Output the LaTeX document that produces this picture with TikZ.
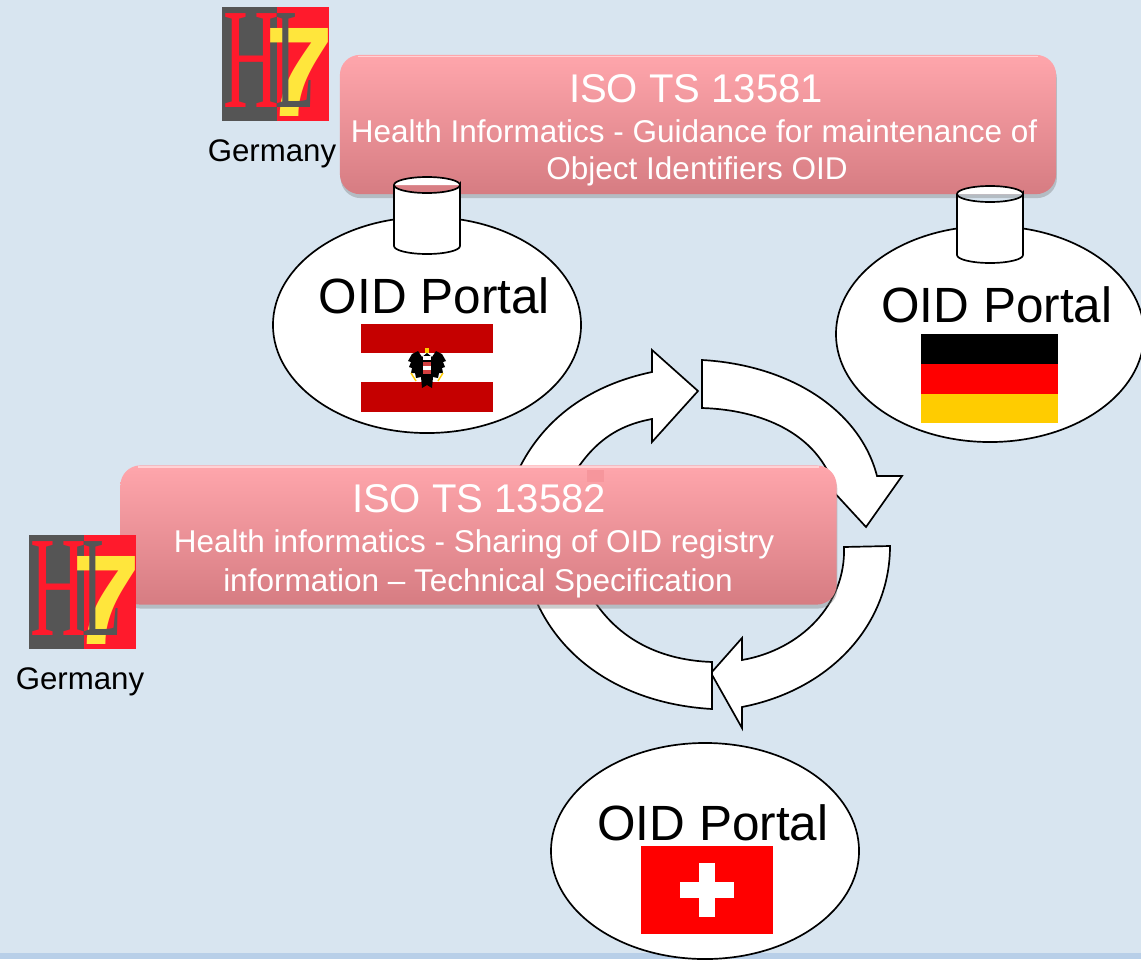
\documentclass[tikz,border=0pt]{standalone}
\usepackage{fontspec}
\setmainfont{Liberation Sans}
\newfontfamily\logofont{Liberation Serif}
\usetikzlibrary{positioning, shapes.geometric, shadows, calc}
\definecolor{slide}{RGB}{216,229,240}
\definecolor{band}{RGB}{184,207,232}
\definecolor{boxtop}{RGB}{255,166,172}
\definecolor{boxmid}{RGB}{246,150,156}
\definecolor{boxlow}{RGB}{214,124,130}
\definecolor{atred}{RGB}{197,0,0}
\definecolor{degold}{RGB}{255,204,0}
\definecolor{logogrey}{RGB}{85,85,85}
\definecolor{logored}{RGB}{255,26,44}
\definecolor{logoyellow}{RGB}{255,230,60}
\tikzstyle{portal} = [ellipse, minimum width=7.7cm, minimum height=5.4cm, inner sep=0, draw=black, fill=white, line width=1.2pt]
\tikzstyle{canline} = [draw=black, fill=white, line width=1.2pt]
\tikzstyle{isobox} = [rectangle, rounded corners=0.5cm, minimum width=17.9cm, minimum height=3.48cm, shading=axis, top color=boxtop, middle color=boxmid, bottom color=boxlow, drop shadow={shadow xshift=0.02cm, shadow yshift=-0.1cm, opacity=0.4}]
\tikzstyle{stripe} = [rectangle, minimum width=3.3cm, minimum height=0.735cm, inner sep=0]
\tikzstyle{bigtext} = [font=\fontsize{35.2}{40}\selectfont, inner sep=0]
\tikzstyle{isotitle} = [font=\fontsize{28.5}{32}\selectfont, text=white, inner sep=0]
\tikzstyle{isotext} = [font=\fontsize{22.4}{26}\selectfont, text=white, inner sep=0]
\tikzstyle{where} = [font=\fontsize{22.2}{26}\selectfont, inner sep=0]
\tikzstyle{cycle} = [draw=black, fill=white, line width=1.2pt, line join=miter]
\newcommand{\hlseven}[3]{%
  \fill[logored] (#2,#3) rectangle ++(107,114);
  \fill[logogrey] (#2,#3) rectangle ++(55,114);
  \node (#1seven) at (#2+76,#3+65) [inner sep=0, text=logoyellow, font=\bfseries\fontsize{91}{91}\selectfont] {\scalebox{1.02}[1]{7}};
  \node (#1h) at (#2+29,#3+54) [inner sep=0, text=logored, font=\logofont\fontsize{102}{102}\selectfont] {\scalebox{.54}[1]{H}};
  \node (#1l) at (#2+73,#3+54) [inner sep=0, text=logogrey, font=\logofont\fontsize{102}{102}\selectfont] {\scalebox{.45}[1]{L}};
}
\newcommand{\oidcan}[3]{%
  \coordinate (#1) at (#2,#3);
  \draw[canline] (#2-33,#3-30) -- (#2-33,#3+31) arc[start angle=180, end angle=0, x radius=33, y radius=8] -- (#2+33,#3-30) arc[start angle=0, end angle=360, x radius=33, y radius=8];
}
\begin{document}
\begin{tikzpicture}[x=0.025cm, y=-0.025cm]
  \clip[use as bounding box] (0,0) rectangle (1141,959);
  \fill[slide] (0,0) rectangle (1141,959);
  \fill[band] (0,953) rectangle (1141,959);

  % cycle
  \draw[cycle] (652,372) .. controls (590,385) and (535,420) .. (510,490) -- (565,490) .. controls (590,440) and (620,425) .. (652,419) -- (652,442) -- (698,391) -- (652,350) -- cycle;
  \draw[cycle] (702,360) .. controls (790,365) and (860,410) .. (877,476) -- (902,476) -- (866,527) -- (819,476) -- (830,476) .. controls (812,435) and (765,410) .. (702,408) -- cycle;
  \draw[cycle] (890,546) .. controls (890,625) and (830,690) .. (742,707) -- (742,728) -- (711,673) -- (742,638) -- (742,660) .. controls (800,650) and (846,605) .. (844,547) -- cycle;
  \draw[cycle] (712,709) .. controls (625,704) and (555,660) .. (530,585) -- (585,585) .. controls (610,635) and (655,660) .. (712,662) -- cycle;

  % portals
  \node (portalAT) at (427,325) [portal] {};
  \node (portalDE) at (990,334) [portal] {};
  \node (portalCH) at (705,851) [portal] {};
  \node (textAT) at (434.5,296) [bigtext] {OID Portal};
  \node (textDE) at (997,305) [bigtext] {OID Portal};
  \node (textCH) at (713,823) [bigtext] {OID Portal};

  % Austria
  \node (atTop) at (427,338.5) [stripe, fill=atred] {};
  \node (atLow) at (427,397) [stripe, fill=atred] {};
  \fill[black] (427,353) -- (422,357) -- (418,351) -- (412,354) -- (408,361) -- (411,362) -- (409,367) -- (412,368) -- (411,373) -- (415,373) -- (416,378) -- (421,377) -- (422,388) -- (427,385) -- (432,388) -- (433,377) -- (438,378) -- (439,373) -- (443,373) -- (442,368) -- (445,367) -- (443,362) -- (446,361) -- (442,354) -- (436,351) -- (432,357) -- cycle;
  \fill[degold] (425,348) rectangle (429,353);
  \draw[degold, line width=1pt] (411,373) -- (416,381);
  \draw[degold, line width=1pt] (443,373) -- (438,381);
  \fill[white] (423,356) rectangle (431,360);
  \fill[atred!75] (423,362) rectangle (431,374);
  \fill[white] (423,366) rectangle (431,370);

  % Germany
  \node (deBlack) at (989.5,349) [stripe, minimum width=3.425cm, fill=black] {};
  \node (deRed) at (989.5,379) [stripe, minimum width=3.425cm, fill=red] {};
  \node (deGold) at (989.5,408.5) [stripe, minimum width=3.425cm, fill=degold] {};

  % Switzerland
  \node (chFlag) at (707,890) [rectangle, minimum width=3.3cm, minimum height=2.2cm, inner sep=0, fill=red] {};
  \node (chBar) at (707,890) [rectangle, minimum width=1.35cm, minimum height=0.4cm, inner sep=0, fill=white] {};
  \node (chPost) at (707,890) [rectangle, minimum width=0.42cm, minimum height=1.35cm, inner sep=0, fill=white] {};

  % ISO TS 13581
  \node (box1) at (698,124.5) [isobox] {};
  \draw[white, opacity=0.5, line width=1.2pt] ($(box1.north west)+(18,2)$) -- ($(box1.north east)+(-18,2)$);
  \node (title1) at (696,89) [isotitle] {ISO TS 13581};
  \node (line1a) at (694,131) [isotext] {Health Informatics - Guidance for maintenance of};
  \node (line1b) at (697,171) [isotext] {Object Identifiers OID};
  \oidcan{can1}{427}{215}
  \oidcan{can2}{990}{224}

  % ISO TS 13582
  \node (box2) at (478.5,535) [isobox] {};
  \draw[white, opacity=0.5, line width=1.2pt] ($(box2.north west)+(18,2)$) -- ($(box2.north east)+(-18,2)$);
  \fill[boxmid] (587,470) rectangle (604,482);
  \node (title2) at (479,499) [isotitle] {ISO TS 13582};
  \node (line2a) at (474,544) [isotext] {Health informatics - Sharing of OID registry};
  \node (line2b) at (478,583) [isotext] {information – Technical Specification};

  % logos
  \hlseven{top}{222}{7}
  \hlseven{low}{29}{535}
  \node (where1) at (272,154) [where] {Germany};
  \node (where2) at (80,682) [where] {Germany};
\end{tikzpicture}
\end{document}
